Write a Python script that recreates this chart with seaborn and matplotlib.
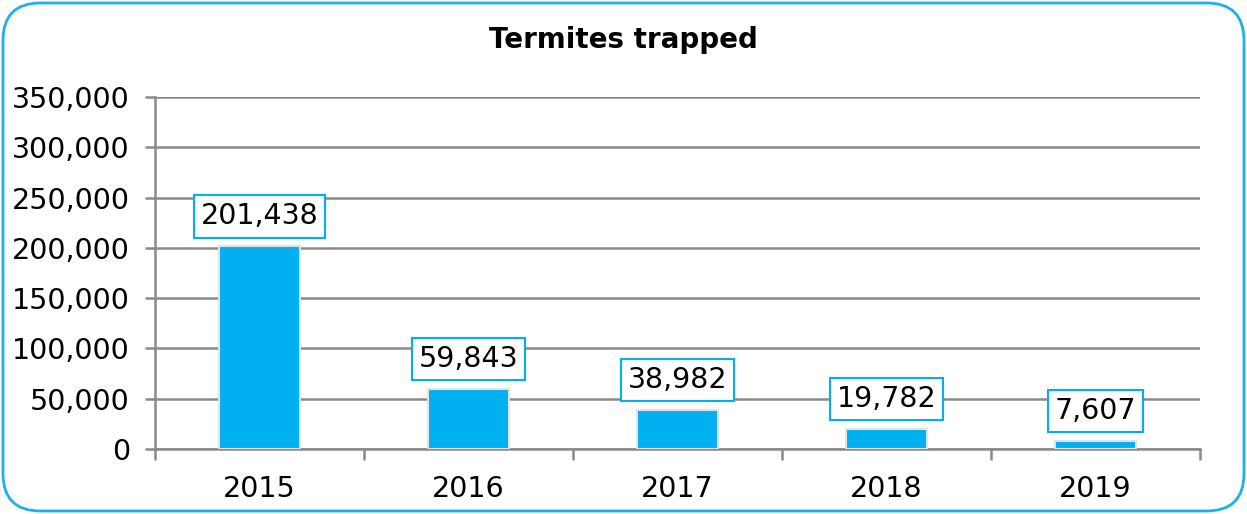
import matplotlib
matplotlib.use("Agg")
import matplotlib.pyplot as plt
import seaborn as sns
import pandas as pd
from matplotlib.patches import FancyBboxPatch
from matplotlib.ticker import FuncFormatter, FixedLocator

years = ["2015", "2016", "2017", "2018", "2019"]
trapped = [201438, 59843, 38982, 19782, 7607]

blue = "#00B0F0"
grid = "#8a8a8a"

df = pd.DataFrame({"year": years, "trapped": trapped})

fig = plt.figure(figsize=(12.47, 5.14), dpi=100)
ax = fig.add_axes([155/1247, 1 - 449/514, 1045/1247, 352/514])

sns.barplot(data=df, x="year", y="trapped", color=blue, saturation=1,
            width=0.39, edgecolor="#e2e2e2", linewidth=1.5, ax=ax, zorder=3)

ax.set_ylim(0, 350000)
ax.set_xlim(-0.5, len(years) - 0.5)
ax.set_yticks(range(0, 350001, 50000))
ax.yaxis.set_major_formatter(FuncFormatter(lambda v, p: f"{int(v):,}"))
ax.grid(axis="y", color=grid, linewidth=1.8, zorder=0)
ax.set_axisbelow(True)

ax.xaxis.set_minor_locator(FixedLocator([i - 0.5 for i in range(len(years) + 1)]))
ax.tick_params(axis="x", which="major", length=0, pad=19, labelsize=20.5)
ax.tick_params(axis="x", which="minor", length=8, width=1.8, color=grid)
ax.tick_params(axis="y", length=7, width=1.8, color=grid, labelsize=20.5, pad=11)

for s in ["top", "right"]:
    ax.spines[s].set_visible(False)
for s in ["left", "bottom"]:
    ax.spines[s].set_color(grid)
    ax.spines[s].set_linewidth(1.8)

ax.set_xlabel("")
ax.set_ylabel("")

for i, v in enumerate(trapped):
    ax.annotate(f"{v:,}", (i, v), xytext=(0, 30), textcoords="offset pixels",
                ha="center", va="center", fontsize=20.5, zorder=5,
                bbox=dict(boxstyle="square,pad=0.25", fc="white", ec=blue, lw=1.5))

fig.text(0.5, 1 - 40/514, "Termites trapped", ha="center", va="center",
         fontsize=20, fontweight="bold")

border = FancyBboxPatch((3/1247, 3/514), 1241/1247, 508/514,
                        boxstyle="round,pad=0,rounding_size=0.03",
                        transform=fig.transFigure, fill=False,
                        ec="#1ab2ea", lw=2, mutation_aspect=1247/514)
fig.patches.append(border)

fig.savefig("out.png", dpi=100)
